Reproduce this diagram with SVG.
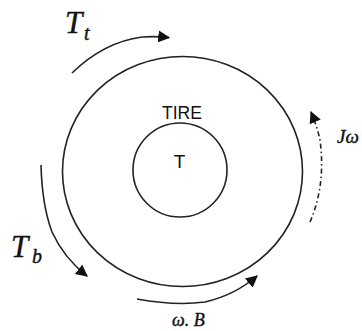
<svg xmlns="http://www.w3.org/2000/svg" width="362" height="331" viewBox="0 0 362 331">
<style>
.ln{fill:none;stroke:#222;stroke-width:1.6}
.sf{font-family:"Liberation Serif","DejaVu Serif",serif;font-style:italic;fill:#111;stroke:#111;stroke-width:0.4}
.ss{font-family:"Liberation Sans",Arial,sans-serif;fill:#111}
</style>
<defs>
<marker id="ahb" viewBox="0 0 10 10" refX="9" refY="5" markerWidth="12" markerHeight="12" markerUnits="userSpaceOnUse" orient="auto">
<path d="M0,0 L10,5 L0,10 Z" fill="#111"/>
</marker>
</defs>
<rect width="362" height="331" fill="#fff"/>
<g id="tire">
<ellipse class="ln" cx="182.5" cy="171.5" rx="120" ry="115"/>
<text class="ss" x="182" y="119" font-size="18" text-anchor="middle" textLength="40" lengthAdjust="spacingAndGlyphs">TIRE</text>
</g>
<g id="hub">
<circle class="ln" cx="180" cy="170" r="47"/>
<text class="ss" x="179.5" y="168" font-size="19" text-anchor="middle">T</text>
</g>
<g id="connectors">
<path class="ln" d="M72,73 Q104,42 142,37 Q155,36 169,37.5" marker-end="url(#ahb)"/>
<path class="ln" d="M41,165 Q42,205 52,232 Q64,258 87,276" marker-end="url(#ahb)"/>
<path class="ln" d="M137,299 Q175,306 205,302 Q235,295 257,276" marker-end="url(#ahb)"/>
<path class="ln" d="M310,222 Q326,185 320,140 Q317,126 311,112" stroke-dasharray="5 3 1.5 3" marker-end="url(#ahb)"/>
</g>
<g id="labels">
<text class="sf" x="65" y="33" font-size="31">T</text>
<text class="sf" x="84" y="40" font-size="20">t</text>
<text class="sf" x="11" y="257" font-size="31">T</text>
<text class="sf" x="32" y="263" font-size="20">b</text>
<text class="sf" x="172" y="326" font-size="18">ω. B</text>
<text class="sf" x="337" y="143" font-size="19">Jω</text>
</g>
</svg>
